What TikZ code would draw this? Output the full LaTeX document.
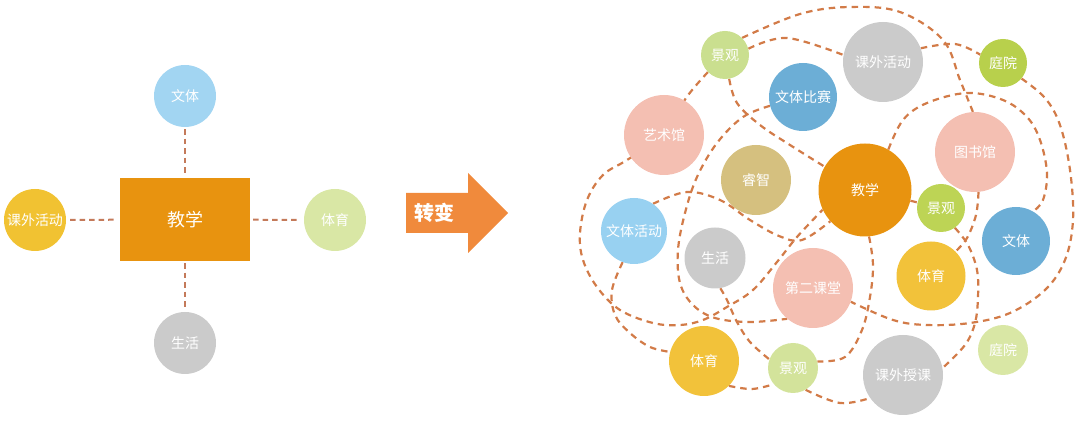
\documentclass[tikz,border=0pt]{standalone}
\usepackage{fontspec}
\newfontfamily\cjk{Noto Sans CJK SC}
\usetikzlibrary{backgrounds}
\definecolor{dashc}{HTML}{D27B48}
\definecolor{ldashc}{HTML}{C47A5A}
\definecolor{cLblue}{HTML}{A2D5F2}
\definecolor{cYellow}{HTML}{F1C232}
\definecolor{cLgreen}{HTML}{D9E7A5}
\definecolor{cGray}{HTML}{CBCBCB}
\definecolor{cOrange}{HTML}{E8930F}
\definecolor{cArrow}{HTML}{F08A3C}
\definecolor{cGreenA}{HTML}{CADF8F}
\definecolor{cPink}{HTML}{F4BFB2}
\definecolor{cBlue}{HTML}{6CAED6}
\definecolor{cLime}{HTML}{B8D04C}
\definecolor{cTan}{HTML}{D5C07F}
\definecolor{cLime2}{HTML}{BDD455}
\definecolor{cSky}{HTML}{98D1F1}
\definecolor{cYel2}{HTML}{F2C23A}
\definecolor{cGreenB}{HTML}{D3E39B}
\begin{document}
\begin{tikzpicture}[x=1pt,y=-1pt,
  bub/.style 2 args={circle, fill=#1, draw=none, text=white, inner sep=0pt,
    minimum size=#2, font=\cjk\fontsize{14}{14}\selectfont},
  dsh/.style={draw=dashc, line width=2.2pt, dash pattern=on 6.5pt off 5pt, line cap=butt},
  ldsh/.style={draw=ldashc, line width=2pt, dash pattern=on 5.5pt off 4pt},
  sm/.style={smooth, tension=0.6}
]
\useasboundingbox (0,0) rectangle (1080,427);

% ---------- left diagram ----------
\node[fill=cOrange, minimum width=130pt, minimum height=83pt, inner sep=0pt,
  text=white, font=\cjk\fontsize{18}{18}\selectfont] (teach) at (185,219.5) {教学};
\node[bub={cLblue}{62pt}] (lwt) at (185,96) {文体};
\node[bub={cYellow}{62pt}] (lkw) at (35,220) {课外活动};
\node[bub={cLgreen}{62pt}] (lty) at (335,220) {体育};
\node[bub={cGray}{62pt}] (lsh) at (185,343) {生活};
\draw[ldsh, shorten <=2pt, shorten >=2pt] (lwt) -- (teach);
\draw[ldsh, shorten <=2pt, shorten >=2pt] (teach) -- (lsh);
\draw[ldsh, shorten <=4pt, shorten >=3pt] (lkw) -- (teach);
\draw[ldsh, shorten <=3pt, shorten >=4pt] (teach) -- (lty);

% ---------- arrow ----------
\fill[cArrow] (406,193) -- (468,193) -- (468,173) -- (508,213) -- (468,253) -- (468,233) -- (406,233) -- cycle;
\node[text=white, font=\cjk\bfseries\fontsize{20}{20}\selectfont] (chg) at (434,213) {转变};

% ---------- right diagram ----------
\node[bub={cGreenA}{48pt}] (jg1) at (725,55) {景观};
\node[bub={cPink}{80pt}] (ysg) at (664,135) {艺术馆};
\node[bub={cBlue}{68pt}] (wtbs) at (803,97) {文体比赛};
\node[bub={cGray}{80pt}] (kwhd) at (883,62) {课外活动};
\node[bub={cLime}{48pt}] (ty1) at (1003,63) {庭院};
\node[bub={cPink}{80pt}] (tsg) at (975,152) {图书馆};
\node[bub={cOrange}{93pt}] (jx) at (865,190) {教学};
\node[bub={cTan}{70pt}] (rz) at (756,180) {睿智};
\node[bub={cLime2}{48pt}] (jg2) at (941,208) {景观};
\node[bub={cBlue}{68pt}] (wt) at (1016,241) {文体};
\node[bub={cSky}{66pt}] (wthd) at (634,231) {文体活动};
\node[bub={cGray}{61pt}] (sh) at (715,258) {生活};
\node[bub={cPink}{80pt}] (dekt) at (813,288) {第二课堂};
\node[bub={cYel2}{69pt}] (tyM) at (931,276) {体育};
\node[bub={cYel2}{70pt}] (tyB) at (704,361) {体育};
\node[bub={cGreenB}{50pt}] (jg3) at (793,368) {景观};
\node[bub={cGray}{80pt}] (kwsk) at (903,375) {课外授课};
\node[bub={cLgreen}{50pt}] (ty2) at (1003,350) {庭院};

\coordinate (meet) at (779,236);

\begin{scope}[on background layer]
% top outer arc
\draw[dsh] plot[sm] coordinates {(jg1.45) (800,14) (850,7) (900,12) (943,40) (960,80) (tsg.93)};
% jg1 -> kwhd
\draw[dsh] plot[sm] coordinates {(jg1.15) (787,38) (kwhd.170)};
% kwhd -> ty1
\draw[dsh] plot[sm] coordinates {(kwhd.20) (955,44) (ty1.160)};
% jg1 -> jx
\draw[dsh] plot[sm] coordinates {(jg1.-80) (737,103) (760,125) (790,145) (jx.150)};
% big left arc from jg1 through ysg down to bottom, up to jx
\draw[dsh] plot[sm] coordinates {(jg1.-135) (686,98) (664,135) (627,160) (603,175) (587,200) (580,233) (583,260) (597,287) (620,310) (653,323) (680,325) (703,320) (727,307) (753,290) (777,262) (797,237) (jx.205)};
% wthd -> arch -> jx
\draw[dsh] plot[sm] coordinates {(wthd.55) (687,192) (720,200) (750,220) (meet) (802,240) (jx.222)};
% wthd bottom -> tyB
\draw[dsh] plot[sm] coordinates {(wthd.-110) (612,290) (615,315) (630,333) (650,347) (tyB.165)};
% wtbs -> left -> dekt
\draw[dsh] plot[sm] coordinates {(wtbs.195) (743,117) (717,143) (697,177) (685,213) (678,250) (680,283) (693,305) (715,318) (750,322) (dekt.230)};
% sh -> jg3
\draw[dsh] plot[sm] coordinates {(sh.-80) (727,300) (737,322) (750,342) (jg3.160)};
% tyB -> jg3
\draw[dsh] plot[sm] coordinates {(tyB.-45) (752,389) (jg3.-140)};
% jx -> jg3
\draw[dsh] plot[sm] coordinates {(jx.-85) (873,265) (870,297) (862,330) (845,357) (jg3.15)};
% jg3 -> kwsk
\draw[dsh] plot[sm] coordinates {(jg3.-60) (840,403) (kwsk.215)};
% big right arc ty1 -> dekt
\draw[dsh] plot[sm] coordinates {(ty1.-40) (1045,98) (1060,125) (1070,170) (1073,220) (1065,260) (1045,290) (1010,313) (970,323) (927,325) (893,320) (dekt.-20)};
% arc over tsg: jx -> wt
\draw[dsh] plot[sm] coordinates {(jx.60) (903,120) (927,103) (967,93) (1003,100) (1027,117) (1040,140) (1047,173) (1043,200) (wt.60)};
% tsg -> tyM
\draw[dsh] plot[sm] coordinates {(tsg.-85) (976,215) (967,238) (tyM.45)};
% jg2 -> kwsk
\draw[dsh] plot[sm] coordinates {(jg2.-55) (968,245) (977,270) (978,297) (975,323) (965,345) (kwsk.10)};
% jx -> jg2
\draw[dsh] (jx) -- (jg2);
\end{scope}
\end{tikzpicture}
\end{document}
